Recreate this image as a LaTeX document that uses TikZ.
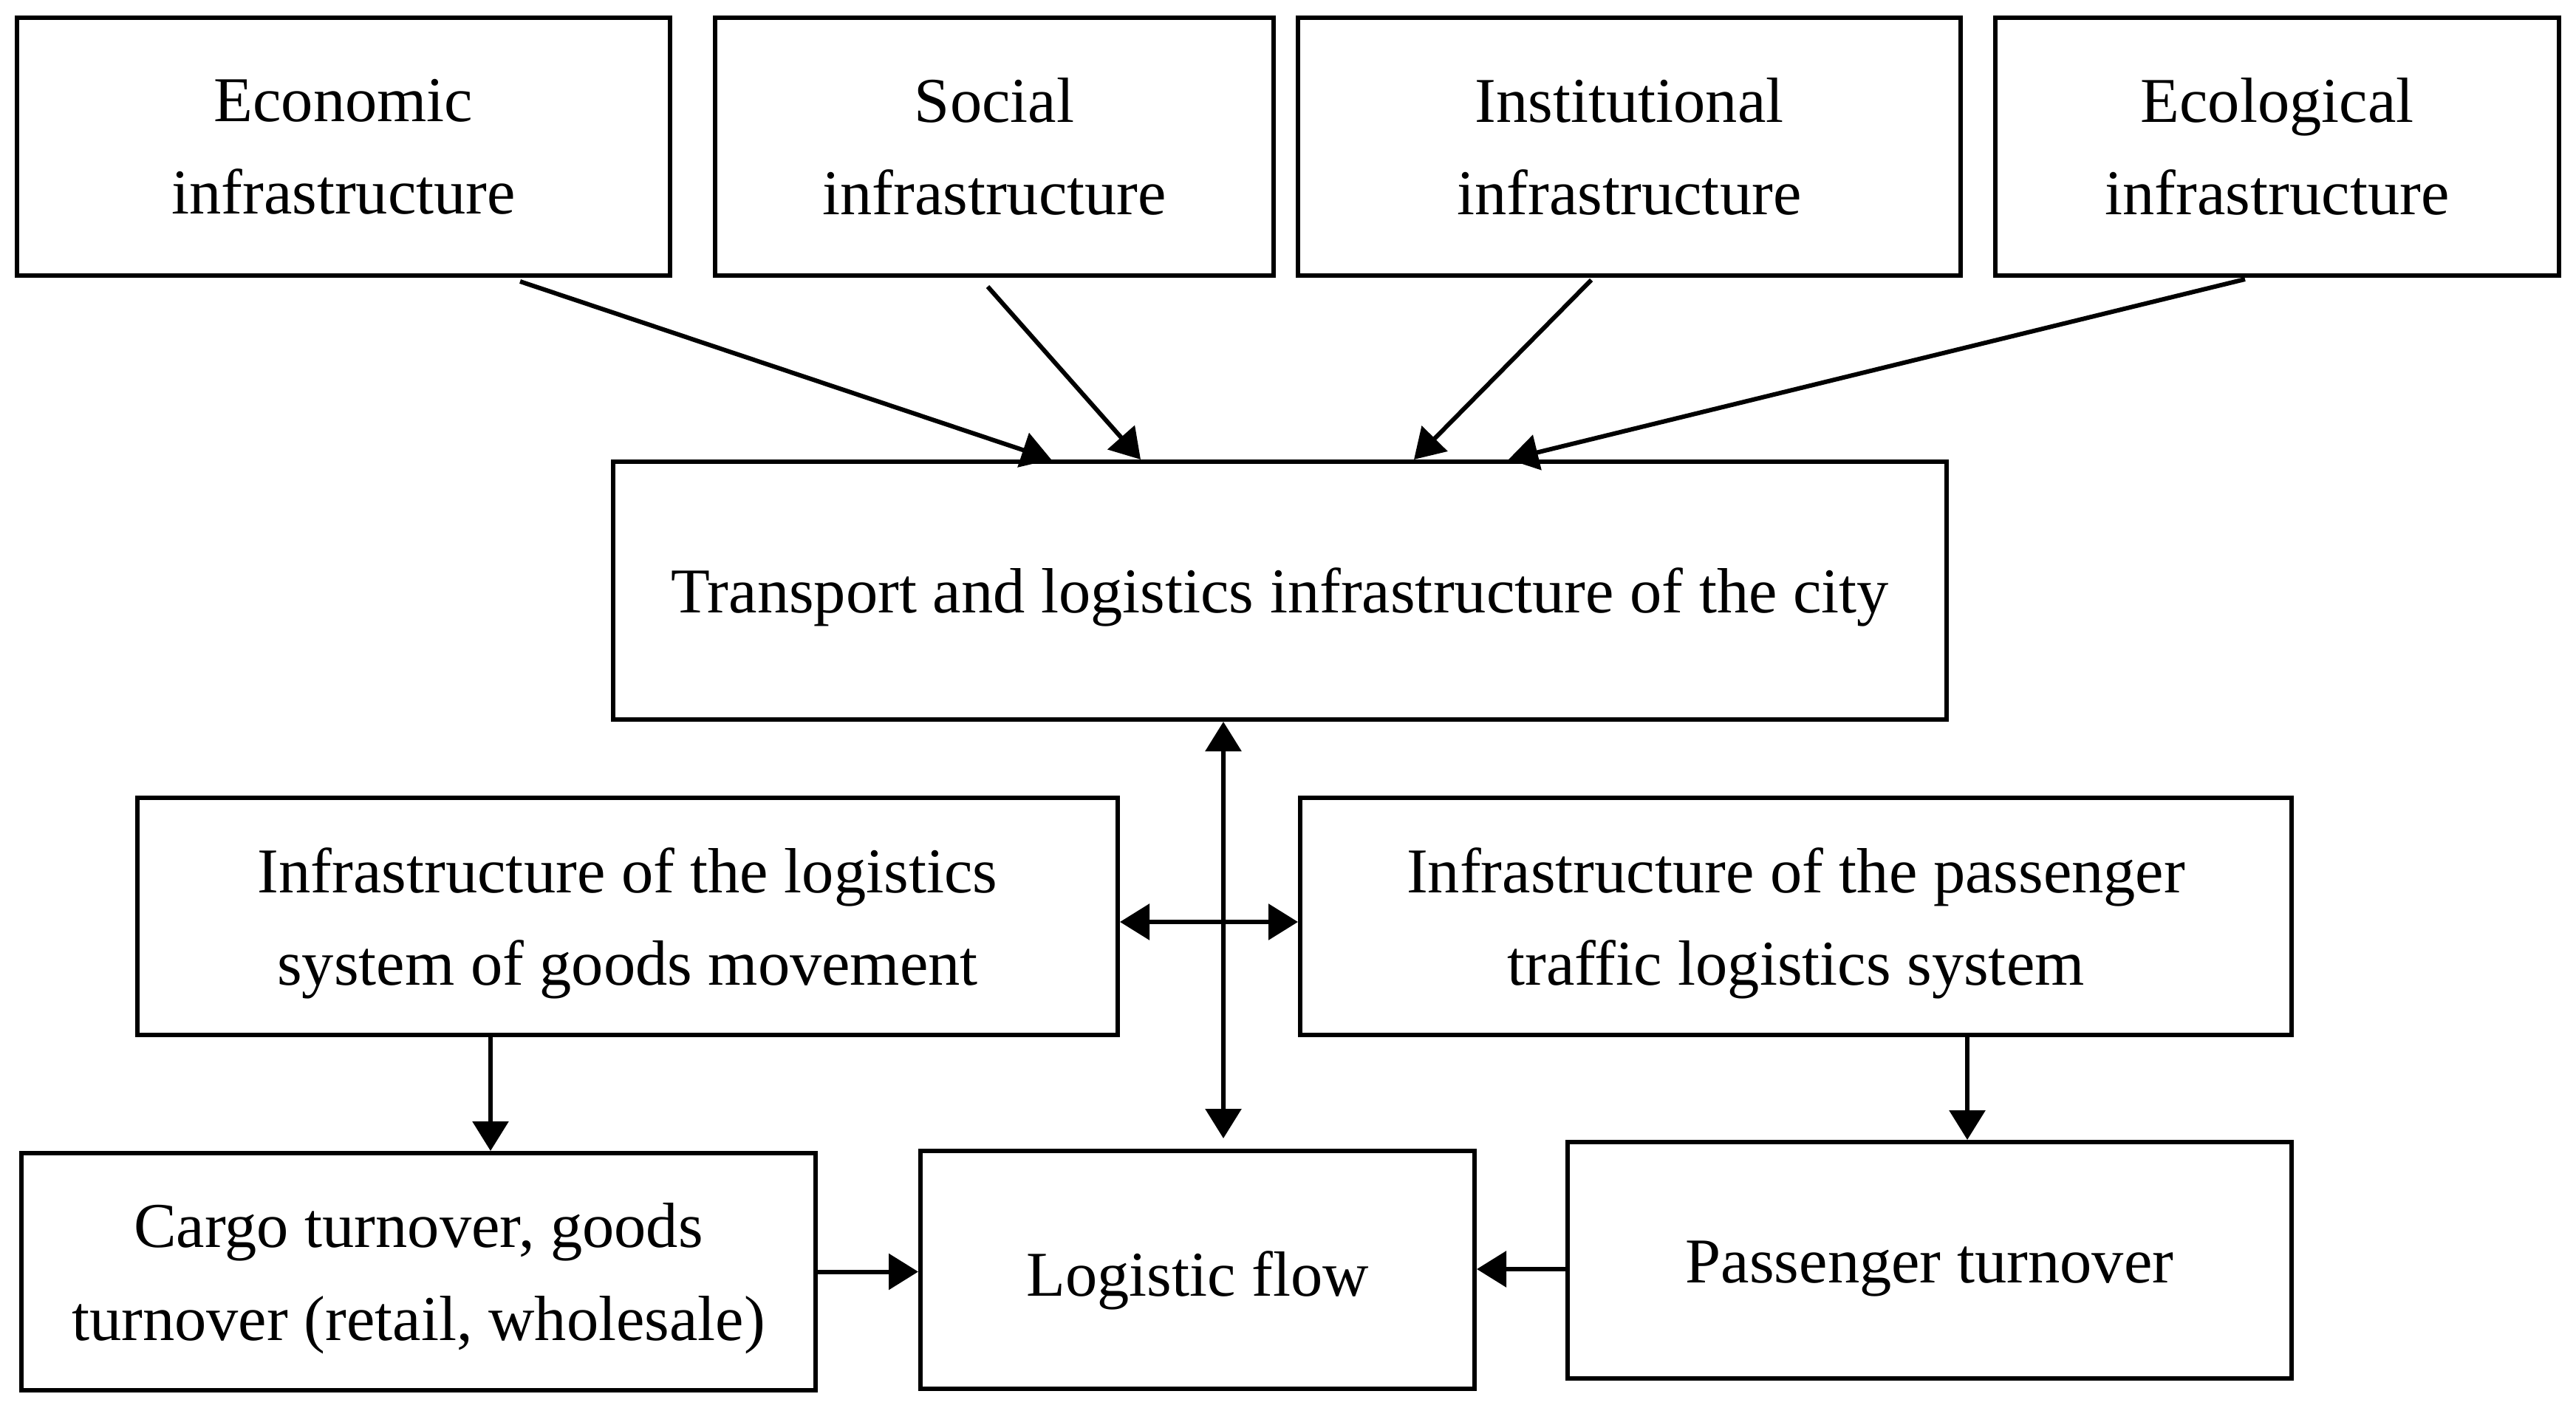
\documentclass[tikz,border=0pt]{standalone}
\usepackage{fontspec}
\setmainfont{Liberation Serif}
\usetikzlibrary{arrows.meta}
\begin{document}
\begin{tikzpicture}[
  box/.style={draw=black, line width=0.06cm, align=center, inner sep=0pt,
    font=\fontsize{24.6pt}{35.6pt}\selectfont},
  conn/.style={line width=0.06cm, -{Triangle[length=0.4cm,width=0.48cm]}},
  bconn/.style={line width=0.06cm, {Triangle[length=0.4cm,width=0.48cm]}-{Triangle[length=0.4cm,width=0.48cm]}}
]
\useasboundingbox (0,0) rectangle (34.87,-19.06);
% top row
\node[box, minimum width=8.84cm, minimum height=3.49cm] (eco) at (4.65,-1.985) {Economic\\infrastructure};
\node[box, minimum width=7.56cm, minimum height=3.49cm] (soc) at (13.46,-1.985) {Social\\infrastructure};
\node[box, minimum width=8.97cm, minimum height=3.49cm] (inst) at (22.055,-1.985) {Institutional\\infrastructure};
\node[box, minimum width=7.63cm, minimum height=3.49cm] (ecol) at (30.825,-1.985) {Ecological\\infrastructure};
% centre
\node[box, minimum width=18.05cm, minimum height=3.49cm, text height=0.59cm, text depth=0pt] (trans) at (17.325,-7.995) {Transport and logistics infrastructure of the city};
% middle row
\node[box, minimum width=13.27cm, minimum height=3.21cm, text depth=0pt] (goods) at (8.495,-12.405) {Infrastructure of the logistics\\system of goods movement};
\node[box, minimum width=13.42cm, minimum height=3.21cm, text depth=0pt] (pass) at (24.31,-12.405) {Infrastructure of the passenger\\traffic logistics system};
% bottom row
\node[box, minimum width=10.75cm, minimum height=3.21cm, text depth=0pt] (cargo) at (5.665,-17.215) {Cargo turnover, goods\\turnover (retail, wholesale)};
\node[box, minimum width=7.50cm, minimum height=3.22cm, text height=0.7cm, text depth=0pt] (flow) at (16.21,-17.19) {Logistic flow};
\node[box, minimum width=9.80cm, minimum height=3.20cm, text height=0.6cm, text depth=0pt] (pturn) at (26.12,-17.06) {Passenger turnover};
% top arrows
\draw[conn] ([xshift=2.39cm,yshift=-0.05cm]eco.south) -- ([xshift=-3.095cm]trans.north);
\draw[conn] ([xshift=-0.09cm,yshift=-0.12cm]soc.south) -- ([xshift=-1.885cm]trans.north);
\draw[conn] ([xshift=-0.515cm,yshift=-0.03cm]inst.south) -- ([xshift=1.815cm]trans.north);
\draw[conn] ([xshift=-0.435cm,yshift=-0.02cm]ecol.south) -- ([xshift=3.095cm]trans.north);
% central arrows
\draw[bconn] ([xshift=-0.765cm]trans.south) -- ([xshift=0.35cm,yshift=0.14cm]flow.north);
\draw[bconn] ([yshift=-0.075cm]goods.east) -- ([yshift=-0.075cm]pass.west);
\draw[conn] ([xshift=-1.855cm]goods.south) -- ([xshift=-1.855cm]goods.south |- cargo.north);
\draw[conn] ([xshift=2.32cm]pass.south) -- ([xshift=2.32cm]pass.south |- pturn.north);
\draw[conn] (cargo.east) -- (cargo.east -| flow.west);
\draw[conn] ([yshift=-0.12cm]pturn.west) -- ([yshift=-0.12cm]pturn.west -| flow.east);
\end{tikzpicture}
\end{document}
